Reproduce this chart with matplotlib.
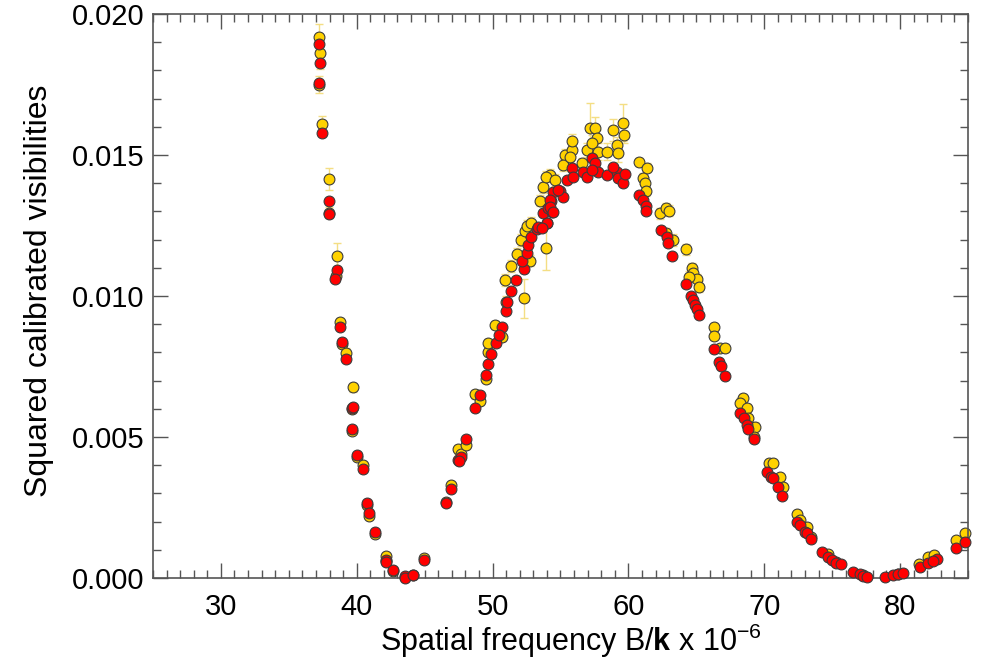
import numpy as np
import matplotlib
matplotlib.use('Agg')
import matplotlib.pyplot as plt
from matplotlib.ticker import MultipleLocator

plt.rcParams['font.family'] = ['Liberation Sans', 'DejaVu Sans']
plt.rcParams['mathtext.fontset'] = 'custom'
plt.rcParams['mathtext.rm'] = 'Liberation Sans'
plt.rcParams['mathtext.it'] = 'Liberation Sans:italic'
plt.rcParams['mathtext.bf'] = 'Liberation Sans:bold'

# yellow set: spatial frequency (x 1e-6), V^2 (x 1e-3), error (x 1e-3)
yel_freq = [37.25, 37.30, 37.25, 37.47, 37.96, 37.96, 38.53, 38.45, 38.77, 38.90,
            39.19, 39.75, 39.63, 39.68, 40.04, 40.49, 40.78, 40.91, 41.35, 42.14,
            42.18, 42.70, 43.56, 44.12, 44.98, 46.55, 46.92, 47.48, 47.66, 48.05,
            48.71, 49.08, 49.50, 49.69, 49.69, 50.18, 50.68, 50.97, 50.92, 51.34,
            51.78, 52.32, 52.10, 52.40, 52.50, 52.80, 52.76, 53.50, 53.74, 53.94,
            54.23, 53.94, 54.60, 55.34, 55.83, 55.83, 55.21, 55.71, 56.57, 56.94,
            57.18, 57.55, 57.67, 57.30, 57.79, 58.41, 58.90, 59.15, 59.26, 59.63,
            59.68, 60.81, 61.35, 61.10, 61.23, 61.30, 62.33, 62.78, 63.02, 62.78,
            63.31, 64.25, 64.67, 64.79, 65.04, 65.23, 64.49, 66.31, 66.31, 66.75,
            67.12, 68.47, 68.23, 68.72, 68.84, 69.33, 69.26, 70.38, 70.68, 71.17,
            71.37, 72.44, 72.64, 73.14, 73.45, 74.73, 75.29, 77.30, 79.88, 81.43,
            82.09, 82.51, 84.13, 84.79]
yel_v2 = [19.19, 18.60, 17.50, 16.10, 14.15, 12.95, 11.42, 10.72, 9.07, 8.30,
          7.99, 6.76, 6.00, 5.20, 4.30, 4.00, 2.60, 2.20, 1.55, 0.78,
          0.60, 0.25, 0.02, 0.10, 0.72, 2.70, 3.30, 4.56, 4.40, 4.72,
          6.51, 6.28, 7.05, 8.02, 8.34, 8.97, 8.56, 9.80, 10.57, 11.06,
          11.49, 9.92, 11.99, 12.30, 12.50, 12.60, 11.25, 13.38, 13.85, 11.71,
          14.29, 14.23, 14.11, 15.00, 15.18, 15.48, 14.65, 14.94, 14.71, 15.18,
          15.95, 15.95, 15.60, 15.41, 15.12, 15.12, 15.89, 15.35, 15.06, 16.15,
          15.71, 14.76, 14.55, 14.17, 14.02, 13.73, 12.93, 13.11, 13.02, 12.22,
          11.99, 11.66, 10.98, 10.83, 10.59, 10.33, 10.68, 8.91, 8.58, 8.15,
          8.15, 6.37, 6.22, 6.02, 5.66, 5.37, 5.00, 4.07, 4.07, 3.59,
          3.22, 2.27, 2.06, 1.82, 1.45, 0.85, 0.55, 0.10, 0.15, 0.50,
          0.76, 0.82, 1.35, 1.58]
yel_err = [0.45, 0.55, 0.30, 0.30, 0.40, 0.20, 0.45, 0.20, 0.15, 0.15,
           0.15, 0.15, 0.15, 0.10, 0.10, 0.10, 0.10, 0.10, 0.08, 0.05,
           0.05, 0.05, 0.05, 0.05, 0.05, 0.10, 0.10, 0.15, 0.15, 0.15,
           0.15, 0.15, 0.10, 0.15, 0.15, 0.15, 0.15, 0.20, 0.20, 0.20,
           0.20, 0.70, 0.20, 0.20, 0.20, 0.20, 0.20, 0.20, 0.20, 0.80,
           0.20, 0.20, 0.20, 0.20, 0.20, 0.25, 0.20, 0.20, 0.20, 0.25,
           0.90, 0.40, 0.30, 0.30, 0.30, 0.30, 0.40, 0.30, 0.30, 0.65,
           0.30, 0.15, 0.15, 0.20, 0.20, 0.20, 0.20, 0.20, 0.20, 0.20,
           0.20, 0.20, 0.20, 0.20, 0.20, 0.20, 0.20, 0.15, 0.15, 0.15,
           0.15, 0.15, 0.15, 0.15, 0.15, 0.15, 0.15, 0.10, 0.10, 0.10,
           0.10, 0.10, 0.10, 0.10, 0.08, 0.05, 0.05, 0.05, 0.05, 0.05,
           0.05, 0.05, 0.05, 0.05]

# red set: spatial frequency (x 1e-6), V^2 (x 1e-3)
red_freq = [37.25, 37.30, 37.25, 37.47, 37.96, 37.96, 38.53, 38.40, 38.77, 38.90,
            39.19, 39.63, 39.72, 39.68, 40.04, 40.49, 40.78, 40.91, 41.35, 42.14,
            42.18, 42.70, 43.56, 43.52, 44.12, 44.98, 46.55, 46.92, 47.48, 47.66,
            48.05, 47.56, 48.71, 49.08, 49.50, 49.69, 49.89, 50.24, 50.68, 50.50,
            50.97, 51.09, 51.34, 51.73, 52.32, 52.15, 52.52, 52.59, 52.83, 53.25,
            53.35, 54.03, 53.70, 54.11, 54.40, 54.29, 54.48, 54.97, 55.21, 54.23,
            54.23, 54.48, 53.99, 53.62, 54.85, 55.46, 55.83, 55.95, 56.69, 56.94,
            57.30, 57.55, 57.79, 57.30, 58.41, 59.15, 58.90, 59.26, 59.63, 59.76,
            60.81, 61.10, 61.30, 61.30, 62.38, 62.83, 62.95, 63.20, 64.25, 64.59,
            64.74, 64.91, 65.08, 65.23, 66.31, 66.70, 66.83, 67.12, 68.23, 68.52,
            68.72, 68.84, 69.26, 70.24, 70.51, 70.68, 71.05, 71.30, 72.44, 72.64,
            73.01, 73.14, 73.45, 74.24, 74.73, 74.98, 75.29, 75.66, 76.52, 77.06,
            77.30, 77.60, 78.90, 79.51, 79.88, 80.21, 81.48, 82.09, 82.71, 82.40,
            84.13, 84.79]
red_v2 = [18.94, 18.27, 17.54, 15.77, 13.38, 12.91, 10.92, 10.62, 8.91, 8.36,
          7.75, 6.04, 6.08, 5.28, 4.36, 3.85, 2.67, 2.29, 1.62, 0.64,
          0.55, 0.28, 0.07, 0.00, 0.12, 0.64, 2.65, 3.16, 4.18, 4.30,
          4.92, 4.15, 6.02, 6.49, 7.20, 7.59, 7.93, 8.34, 8.89, 8.60,
          9.48, 9.80, 10.18, 10.57, 10.95, 11.25, 11.51, 11.81, 12.08, 12.37,
          12.46, 12.58, 12.93, 13.11, 12.97, 13.38, 13.70, 13.73, 13.52, 13.40,
          13.17, 12.99, 12.58, 12.40, 13.76, 14.11, 14.53, 14.23, 14.41, 14.23,
          14.88, 14.71, 14.41, 14.47, 14.29, 14.41, 14.59, 14.17, 14.00, 14.33,
          13.58, 13.40, 13.19, 13.02, 12.34, 12.10, 11.87, 11.42, 10.41, 10.00,
          9.86, 9.68, 9.53, 9.33, 8.11, 7.67, 7.52, 7.17, 5.86, 5.66,
          5.43, 5.27, 4.92, 3.77, 3.59, 3.54, 3.22, 2.91, 2.00, 1.88,
          1.64, 1.58, 1.37, 0.93, 0.76, 0.64, 0.54, 0.50, 0.20, 0.14,
          0.07, 0.05, 0.05, 0.11, 0.14, 0.17, 0.40, 0.54, 0.66, 0.60,
          1.08, 1.29]

yel_v2 = np.array(yel_v2) * 1e-3
yel_err = np.array(yel_err) * 1e-3
red_v2 = np.array(red_v2) * 1e-3

fig = plt.figure(figsize=(9.82, 6.58), dpi=100)
ax = fig.add_axes([0.1558, 0.1216, 0.8299, 0.8571])

edge = '#3c3c3c'
ax.errorbar(yel_freq, yel_v2, yerr=yel_err, fmt='none', ecolor='#f4de84',
            elinewidth=1.0, capsize=3, capthick=1.0, zorder=1, clip_on=False)
ax.plot(yel_freq, yel_v2, 'o', ms=7.8, mfc='#ffd200', mec=edge, mew=0.8,
        zorder=2, clip_on=False)
ax.plot(red_freq, red_v2, 'o', ms=7.8, mfc='#ff0000', mec=edge, mew=0.8,
        zorder=3, clip_on=False)

ax.set_xlim(25, 85)
ax.set_ylim(0, 0.020)
ax.xaxis.set_major_locator(MultipleLocator(10))
ax.xaxis.set_minor_locator(MultipleLocator(1))
ax.yaxis.set_major_locator(MultipleLocator(0.005))
ax.yaxis.set_minor_locator(MultipleLocator(0.001))
ax.yaxis.set_major_formatter(matplotlib.ticker.FormatStrFormatter('%.3f'))

for s in ax.spines.values():
    s.set_color('#555555')
    s.set_linewidth(1.2)
ax.tick_params(which='both', direction='in', top=True, right=True,
               color='#555555', width=1.0, labelsize=21)
ax.tick_params(which='major', length=11)
ax.tick_params(which='minor', length=5.5)
ax.tick_params(axis='x', pad=11)
ax.tick_params(axis='y', pad=6)

ax.set_xlabel(r'Spatial frequency B/$\mathbf{k}$ x 10$^{-6}$', fontsize=22)
ax.set_ylabel('Squared calibrated visibilities', fontsize=23)
ax.xaxis.set_label_coords(0.513, -0.077)
ax.yaxis.set_label_coords(-0.122, 0.51)

fig.savefig('out.png', dpi=100)
